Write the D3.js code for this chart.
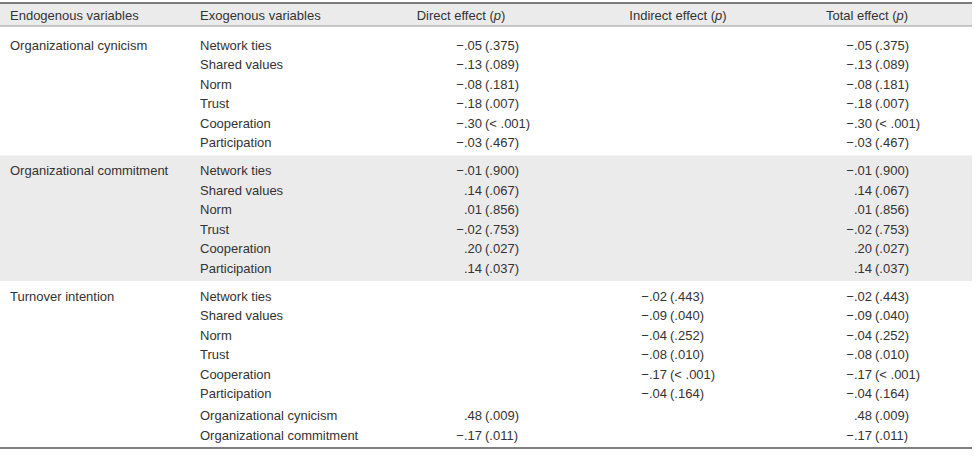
<!DOCTYPE html>
<html>
<head>
<meta charset="utf-8">
<script src="https://cdn.jsdelivr.net/npm/d3@7"></script>
<style>
  html, body { margin: 0; padding: 0; background: #fff; }
  svg { display: block; }
  text { font-family: "Liberation Sans", Arial, sans-serif; font-size: 13px; fill: #333; }
</style>
</head>
<body>
<svg id="chart" width="976" height="456"></svg>
<script>
// ---------- DATA ----------
const headers = ["Endogenous variables", "Exogenous variables", "Direct effect", "Indirect effect", "Total effect"];
const endogenous = ["Organizational cynicism", "Organizational commitment", "Turnover intention"];
const exogenous = [
  ["Network ties", "Shared values", "Norm", "Trust", "Cooperation", "Participation"],
  ["Network ties", "Shared values", "Norm", "Trust", "Cooperation", "Participation"],
  ["Network ties", "Shared values", "Norm", "Trust", "Cooperation", "Participation", "Organizational cynicism", "Organizational commitment"]
];
const directCoef = [
  [-.05, -.13, -.08, -.18, -.30, -.03],
  [-.01, .14, .01, -.02, .20, .14],
  [null, null, null, null, null, null, .48, -.17]
];
const directP = [
  [".375", ".089", ".181", ".007", "<.001", ".467"],
  [".900", ".067", ".856", ".753", ".027", ".037"],
  [null, null, null, null, null, null, ".009", ".011"]
];
const indirectCoef = [
  [null, null, null, null, null, null],
  [null, null, null, null, null, null],
  [-.02, -.09, -.04, -.08, -.17, -.04, null, null]
];
const indirectP = [
  [null, null, null, null, null, null],
  [null, null, null, null, null, null],
  [".443", ".040", ".252", ".010", "<.001", ".164", null, null]
];
const totalCoef = [
  [-.05, -.13, -.08, -.18, -.30, -.03],
  [-.01, .14, .01, -.02, .20, .14],
  [-.02, -.09, -.04, -.08, -.17, -.04, .48, -.17]
];
const totalP = [
  [".375", ".089", ".181", ".007", "<.001", ".467"],
  [".900", ".067", ".856", ".753", ".027", ".037"],
  [".443", ".040", ".252", ".010", "<.001", ".164", ".009", ".011"]
];

// ---------- LAYOUT ----------
const W = 976, tableLeft = 0, tableRight = 972;
const svg = d3.select("#chart");

const fmtCoef = v => {
  const s = d3.format(".2f")(Math.abs(v)).replace(/^0/, "");
  return (v < 0 ? "\u2212" : "") + s;
};
const fmtP = p => "(" + p.replace("<", "< ") + ")";

// Row y positions: a linear scale over a "slot" index that includes group gaps
const rowStep = 19.5;
const groupGap = 8.5;
const rows = [];
let slot = 0;
exogenous.forEach((list, g) => {
  list.forEach((name, i) => {
    let extra = (g === 2 && i >= 6) ? 2.5 : 0;
    rows.push({ g, i, name, pos: slot + extra });
    slot += rowStep;
  });
  slot += groupGap;
});
const y = d3.scaleLinear().domain([0, rowStep]).range([45, 45 + rowStep]);

// group band extents
const groupBounds = exogenous.map((list, g) => {
  const rs = rows.filter(r => r.g === g);
  return { g, top: y(rs[0].pos) - 13, bottom: y(rs[rs.length - 1].pos) + 11 };
});

// columns
const x = {
  endo: 10, exo: 200,
  direct: { head: 461, coef: 482, p: 485 },
  indirect: { head: 678, coef: 667, p: 670 },
  total: { head: 867, coef: 872, p: 875 }
};

// header background
const headTop = 3, headBottom = 26;
svg.append("rect").attr("x", tableLeft).attr("y", headTop).attr("width", tableRight - tableLeft).attr("height", headBottom - headTop).attr("fill", "#ebebeb");

// group 2 gray band
svg.append("rect")
  .attr("x", tableLeft).attr("y", groupBounds[0].bottom + 2)
  .attr("width", tableRight - tableLeft)
  .attr("height", (groupBounds[2].top - 2) - (groupBounds[0].bottom + 2))
  .attr("fill", "#ebebeb");

// lines
svg.append("line").attr("x1", tableLeft).attr("x2", tableRight).attr("y1", headTop).attr("y2", headTop).attr("stroke", "#555").attr("stroke-width", 1.5);
svg.append("line").attr("x1", tableLeft).attr("x2", tableRight).attr("y1", headBottom).attr("y2", headBottom).attr("stroke", "#9a9a9a").attr("stroke-width", 1);
const lastY = y(rows[rows.length - 1].pos) + 13;
svg.append("line").attr("x1", tableLeft).attr("x2", tableRight).attr("y1", lastY).attr("y2", lastY).attr("stroke", "#555").attr("stroke-width", 1.5);

// header text
const hy = 15;
const hg = svg.append("g").attr("class", "header");
hg.append("text").attr("x", x.endo).attr("y", hy).attr("dy", "0.35em").text(headers[0]);
hg.append("text").attr("x", x.exo).attr("y", hy).attr("dy", "0.35em").text(headers[1]);
[["direct", headers[2]], ["indirect", headers[3]], ["total", headers[4]]].forEach(([k, label]) => {
  const t = hg.append("text").attr("x", x[k].head).attr("y", hy).attr("dy", "0.35em").attr("text-anchor", "middle");
  t.append("tspan").text(label + " (");
  t.append("tspan").attr("font-style", "italic").text("p");
  t.append("tspan").text(")");
});

// body
const body = svg.append("g").attr("class", "body");
endogenous.forEach((name, g) => {
  const r0 = rows.find(r => r.g === g);
  body.append("text").attr("x", x.endo).attr("y", y(r0.pos)).attr("dy", "0.35em").text(name);
});
rows.forEach(r => {
  const yy = y(r.pos);
  body.append("text").attr("x", x.exo).attr("y", yy).attr("dy", "0.35em").text(r.name);
  [["direct", directCoef, directP], ["indirect", indirectCoef, indirectP], ["total", totalCoef, totalP]].forEach(([k, C, P]) => {
    const c = C[r.g][r.i], p = P[r.g][r.i];
    if (c === null || c === undefined) return;
    body.append("text").attr("x", x[k].coef).attr("y", yy).attr("dy", "0.35em").attr("text-anchor", "end").text(fmtCoef(c));
    body.append("text").attr("x", x[k].p).attr("y", yy).attr("dy", "0.35em").text(fmtP(p));
  });
});
</script>
</body>
</html>
